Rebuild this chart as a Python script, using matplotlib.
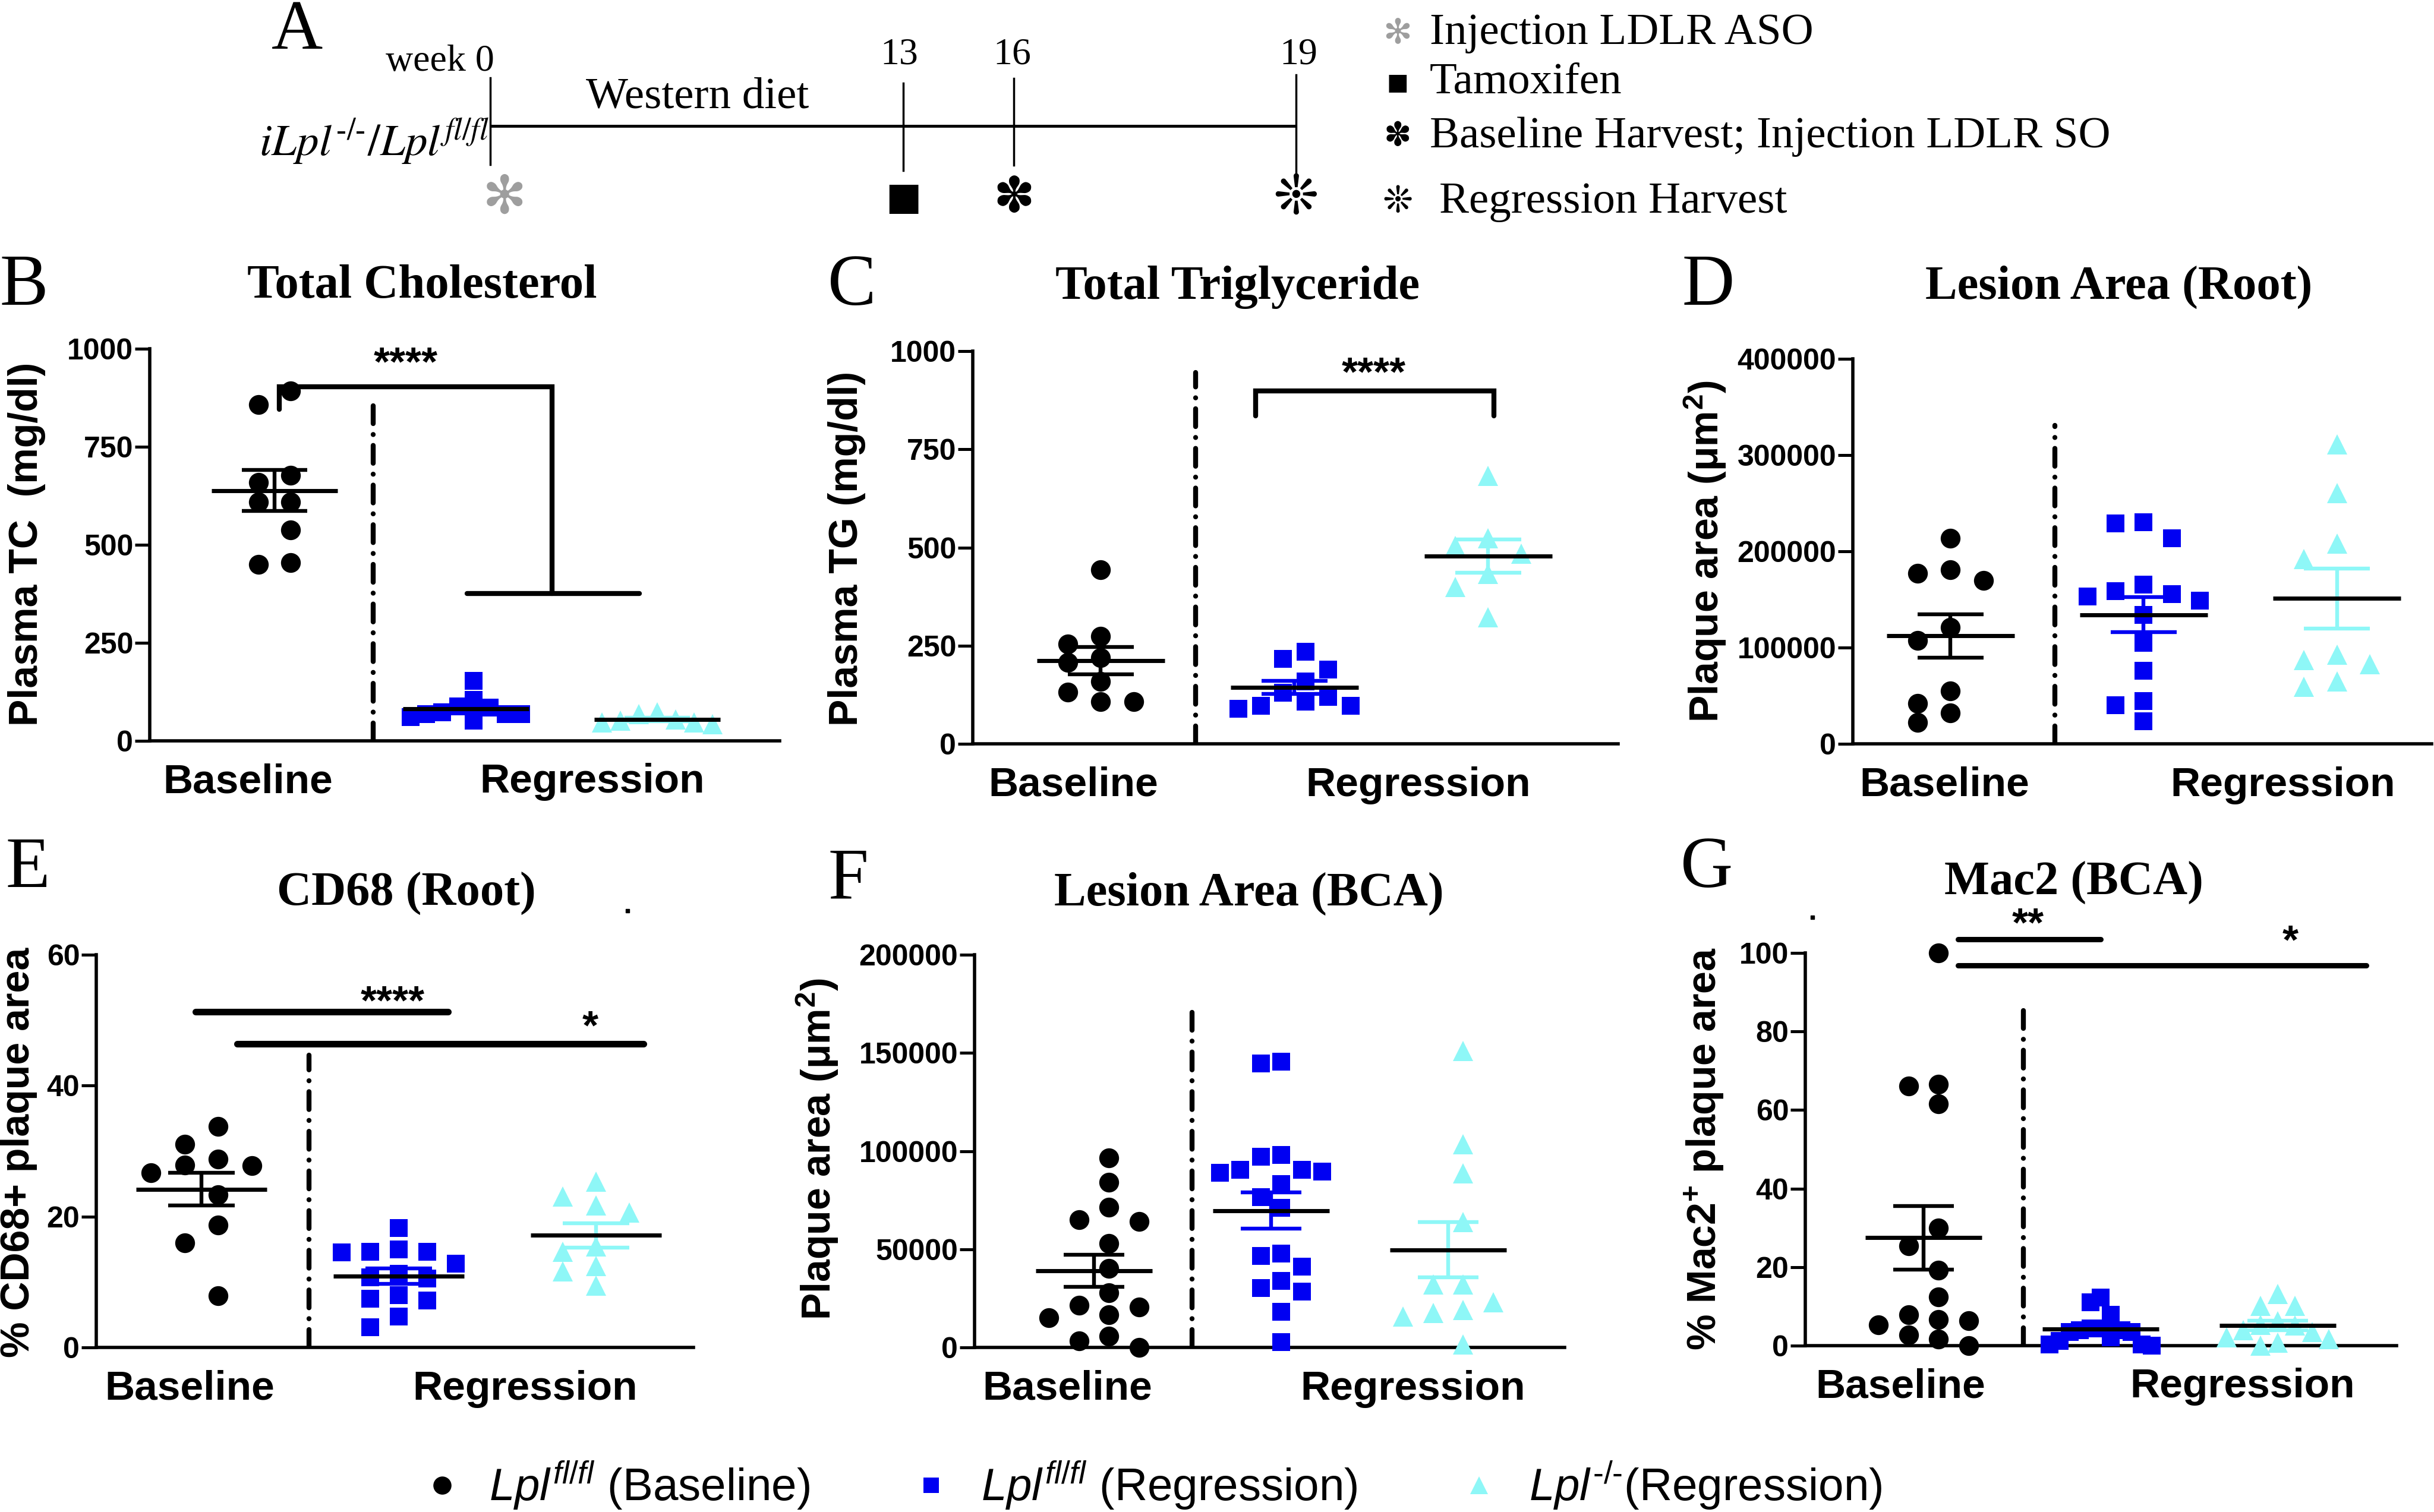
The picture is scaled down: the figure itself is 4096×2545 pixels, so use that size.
import numpy as np
import matplotlib
matplotlib.use("Agg")
import matplotlib.pyplot as plt

W, H = 4096, 2545
plt.rcParams['font.family'] = ['Liberation Sans', 'DejaVu Sans']
plt.rcParams['mathtext.fontset'] = 'custom'
plt.rcParams['mathtext.rm'] = 'Liberation Sans'
plt.rcParams['mathtext.it'] = 'Liberation Sans:italic'
plt.rcParams['mathtext.bf'] = 'Liberation Sans:bold'

SERIF = 'Liberation Serif'
BLUE = '#0000f2'
CYAN = '#8ef7f7'
GRAY = '#9e9e9e'

# ---- data ----
groups = ['Baseline', 'Regression']
legend_labels = [r'$Lpl^{fl/fl}$ (Baseline)', r'$Lpl^{fl/fl}$ (Regression)',
                 r'$Lpl^{‐/‐}$(Regression)']

tc_base = [893, 858, 677, 659, 609, 609, 538, 450, 454]
tc_flox = [105, 68, 88, 72, 153, 85, 51, 68, 61, 68]
tc_ko = [47, 72, 51, 68, 42, 54, 47]

tg_base = [443, 274, 254, 220, 207, 159, 132, 108, 108]
tg_flox = [216, 234, 189, 159, 130, 119, 97, 97, 89, 108]
tg_ko = [682, 504, 524, 484, 432, 400, 322]

root_base = [213800, 176900, 180700, 169700, 121200, 107400, 55100, 41900, 32000, 22000]
root_flox = [230300, 229200, 213800, 165300, 155400, 158700, 153200, 148800, 133900,
             105200, 76000, 44600, 40200, 23700]
root_ko = [311300, 260600, 208300, 191700, 92600, 82700, 87100, 59500, 65000]

cd68_base = [33.8, 28.8, 31.0, 27.9, 27.8, 26.7, 23.3, 18.7, 16.0, 7.9]
cd68_flox = [18.2, 14.6, 14.6, 15.0, 14.5, 12.8, 11.3, 10.7, 10.5, 8.0, 7.4, 7.2, 4.7, 3.1]
cd68_ko = [25.3, 23.1, 21.7, 20.6, 15.4, 14.6, 12.4, 11.6, 9.4]

bca_base = [96600, 84200, 71400, 64100, 65000, 53100, 40300, 27800, 20700, 21400,
            15200, 16500, 3300, 5900, 0]
bca_flox = [145500, 144600, 97900, 97000, 90600, 89700, 89100, 90600, 83300, 76500,
            71000, 46700, 47900, 41200, 33900, 30200, 28400, 18300, 2700]
bca_ko = [151000, 103400, 88800, 63700, 32000, 32000, 22900, 17400, 19200, 15600, 1500]

mac2_base = [100, 66.1, 66.6, 61.6, 30.0, 25.4, 19.2, 12.4, 5.3, 6.7, 6.4, 7.9, 2.7, 1.6, 0]
mac2_flox = [12.2, 11.0, 7.8, 4.4, 3.5, 4.4, 3.5, 3.9, 3.9, 1.2, 2.1, 0, 0.3, 0.3]
mac2_ko = [13.1, 10.1, 10.1, 5.3, 6.2, 5.1, 3.5, 3.9, 1.6, 2.1, 0.7, 0]

weeks = ['week 0', '13', '16', '19']
steps = ['Injection LDLR ASO', 'Tamoxifen', 'Baseline Harvest; Injection LDLR SO', 'Regression Harvest']

fig = plt.figure(figsize=(W / 100, H / 100), dpi=100)
fig.patch.set_facecolor('white')


def fx(x):
    return x / W


def fy(y):
    return 1 - y / H


# overlay in pixel units for the schematic and the legend
ov = fig.add_axes([0, 0, 1, 1])
ov.set_xlim(0, W)
ov.set_ylim(H, 0)
ov.axis('off')
ov.patch.set_visible(False)


def swarm(vals, dy, step=0.17, span=0.58):
    # graphpad-like column scatter: points that would overlap go into side slots
    vals = np.asarray(vals, float)
    slots = np.zeros(len(vals))
    placed = []
    cands = [0] + [s for k in range(1, 30) for s in (-k, k)]
    for i in np.argsort(-vals, kind='stable'):
        for s in cands:
            if all(abs(vals[i] - pv) >= dy for ps, pv in placed if ps == s):
                break
        placed.append((s, vals[i]))
        slots[i] = s
    lo, hi = slots.min(), slots.max()
    n = hi - lo
    gap = step if n * step <= span else span / n
    return (slots - (lo + hi) / 2) * gap


def draw_group(ax, x0, vals, marker, color, ecolor, ms, dy):
    vals = np.asarray(vals, float)
    xs = x0 + swarm(vals, dy)
    ax.plot(xs, vals, ls='none', marker=marker, ms=ms, mfc=color, mec=color,
            mew=0, clip_on=False, zorder=3)
    m = vals.mean()
    se = vals.std(ddof=1) / np.sqrt(len(vals))
    kw = dict(color=ecolor, lw=4.6, solid_capstyle='butt', clip_on=False, zorder=4)
    ax.plot([x0, x0], [m - se, m + se], **kw)
    ax.plot([x0 - 0.17, x0 + 0.17], [m + se, m + se], **kw)
    ax.plot([x0 - 0.17, x0 + 0.17], [m - se, m - se], **kw)
    ax.plot([x0 - 0.33, x0 + 0.33], [m, m], color='black', lw=5,
            solid_capstyle='butt', clip_on=False, zorder=5)


def make_panel(box, xlim, ylim, ticks, dash, lab, data):
    l, r, b, t = box
    ax = fig.add_axes([fx(l), fy(b), (r - l) / W, (b - t) / H])
    ax.set_xlim(*xlim)
    ax.set_ylim(*ylim)
    ax.patch.set_visible(False)
    for s in ['top', 'right']:
        ax.spines[s].set_visible(False)
    for s in ['left', 'bottom']:
        ax.spines[s].set_linewidth(4)
    ax.set_yticks(ticks)
    ax.set_yticklabels([str(v) for v in ticks], fontsize=36, fontweight='bold')
    ax.tick_params(axis='y', length=18, width=3.6, pad=2)
    ax.set_xticks(lab)
    ax.set_xticklabels(groups, fontsize=50, fontweight='bold')
    ax.tick_params(axis='x', length=0, pad=27)
    ax.plot([dash[0], dash[0]], [0, dash[1]], color='black', lw=6,
            ls=(0, (3.6, 2.2, 0.01, 2.2)), dash_capstyle='round', zorder=2)
    dy = 31 / (b - t) * (ylim[1] - ylim[0])
    base, flox, ko = data
    draw_group(ax, 0, base, 'o', 'black', 'black', 24, dy)
    draw_group(ax, 1, flox, 's', BLUE, BLUE, 22, dy)
    draw_group(ax, 2, ko, '^', CYAN, CYAN, 25, dy)
    return ax


def star(ax, x, y, s):
    ax.text(x, y, s, ha='center', va='center', fontsize=50, fontweight='bold', clip_on=False)


def bar(ax, xs, ys, lw):
    ax.plot(xs, ys, color='black', lw=lw, solid_capstyle='round',
            solid_joinstyle='miter', clip_on=False, zorder=4)


# ---- panels ----
axB = make_panel((252, 1312, 1247, 587), (-0.652, 2.64), (0, 1000), [0, 250, 500, 750, 1000],
                 (0.516, 862), (-0.14, 1.66), (tc_base, tc_flox, tc_ko))
bar(axB, [0.025, 0.025, 1.45, 1.45], [845, 903, 903, 376], 6)
bar(axB, [1.006, 1.907], [376, 376], 6)
star(axB, 0.686, 960, '****')

axC = make_panel((1637, 2723, 1252, 591), (-0.66, 2.67), (0, 1000), [0, 250, 500, 750, 1000],
                 (0.49, 946), (-0.14, 1.64), (tg_base, tg_flox, tg_ko))
bar(axC, [0.80, 0.80, 2.03, 2.03], [835, 899, 899, 835], 6)
star(axC, 1.41, 940, '****')

axD = make_panel((3118, 4092, 1252, 604), (-0.505, 2.49), (0, 400000),
                 [0, 100000, 200000, 300000, 400000],
                 (0.54, 331000), (-0.03, 1.72), (root_base, root_flox, root_ko))

axE = make_panel((162, 1167, 2268, 1607), (-0.533, 2.494), (0, 60), [0, 20, 40, 60],
                 (0.545, 44.7), (-0.06, 1.64), (cd68_base, cd68_flox, cd68_ko))
bar(axE, [-0.03, 1.25], [51.3, 51.3], 8)
bar(axE, [0.18, 2.24], [46.4, 46.4], 8)
star(axE, 0.97, 52.6, '****')
star(axE, 1.97, 48.8, '*')

axF = make_panel((1640, 2633, 2268, 1607), (-0.675, 2.658), (0, 200000),
                 [0, 50000, 100000, 150000, 200000],
                 (0.554, 172000), (-0.15, 1.80), (bca_base, bca_flox, bca_ko))

axG = make_panel((3038, 4033, 2265, 1604), (-0.668, 2.671), (0, 100), [0, 20, 40, 60, 80, 100],
                 (0.564, 86.3), (-0.13, 1.80), (mac2_base, mac2_flox, mac2_ko))
bar(axG, [0.195, 1.0], [103.5, 103.5], 6.5)
bar(axG, [0.195, 2.5], [96.8, 96.8], 6.5)
star(axG, 0.59, 107.0, '**')
star(axG, 2.07, 102.7, '*')

# ---- titles, letters, y labels ----
titles = [('Total Cholesterol', 710, 481), ('Total Triglyceride', 2083, 483),
          ('Lesion Area (Root)', 3566, 483), ('CD68 (Root)', 684, 1504),
          ('Lesion Area (BCA)', 2102, 1504), ('Mac2 (BCA)', 3490, 1486)]
for s, x, y in titles:
    fig.text(fx(x), fy(y), s, ha='center', va='center', family=SERIF,
             fontweight='bold', fontsize=58)

fig.text(fx(500), fy(0), 'A', ha='center', va='top', family=SERIF, fontsize=86)
letters = [('B', 40, 483), ('C', 1434, 483), ('D', 2875, 483),
           ('E', 47, 1463), ('F', 1427, 1482), ('G', 2872, 1463)]
for s, x, y in letters:
    fig.text(fx(x), fy(y), s, ha='center', va='center', family=SERIF, fontsize=88)

ylabels = [('Plasma TC  (mg/dl)', 45, 916), ('Plasma TG (mg/dl)', 1425, 923),
           (r'Plaque area (μm$^{\mathbf{2}}$)', 2870, 928), ('% CD68+ plaque area', 31, 1940),
           (r'Plaque area (μm$^{\mathbf{2}}$)', 1376, 1934),
           (r'% Mac2$^{\mathbf{+}}$ plaque area', 2868, 1934)]
for s, x, y in ylabels:
    fig.text(fx(x), fy(y), s, ha='center', va='center', rotation=90,
             fontweight='bold', fontsize=49)

# stray specks in the original
ov.plot([1056, 3050], [1533, 1544], ls='none', marker='s', ms=4, color='black')

# ---- panel A: timeline ----
tl_x = [825, 1520, 1706, 2181]
tl_top = [131, 140, 132, 126]
tl_bot = [277, 287, 278, 293]
ov.plot([tl_x[0], tl_x[-1]], [212, 212], color='black', lw=3.5, solid_capstyle='butt')
for x, t0, t1 in zip(tl_x, tl_top, tl_bot):
    ov.plot([x, x], [t0, t1], color='black', lw=2.5)
wk_pos = [(740, 104), (1513, 92), (1703, 92), (2185, 92)]
for s, (x, y) in zip(weeks, wk_pos):
    ov.text(x, y, s, ha='center', va='center', family=SERIF, fontsize=46)
ov.text(1174, 164, 'Western diet', ha='center', va='center', family=SERIF, fontsize=54)
ov.text(823, 238, r'$iLpl^{‐/‐}/Lpl^{fl/fl}$', ha='right', va='center',
        fontsize=54, math_fontfamily='stix')

sym = ['✻', '■', '✽', '❊']
sym_col = [GRAY, 'black', 'black', 'black']
tl_sym_size = [64, 46, 60, 66]
for x, s, c, fs in zip(tl_x, sym, sym_col, tl_sym_size):
    ov.text(x + (24 if s == '✻' else 0), 334, s, ha='center', va='center', color=c,
            family='DejaVu Sans', fontsize=fs)
leg_y = [56, 139, 230, 340]
leg_sym_size = [42, 28, 40, 44]
for s, c, fs, y, lab in zip(sym, sym_col, leg_sym_size, leg_y, steps):
    ov.text(2352, y, s, ha='center', va='center', color=c, family='DejaVu Sans', fontsize=fs)
    ov.text(2406 if lab != steps[-1] else 2422, y, lab, ha='left', va='center',
            family=SERIF, fontsize=54)

# ---- bottom legend ----
leg_mk = [('o', 'black', 22, 744, 823), ('s', BLUE, 19, 1567, 1651), ('^', CYAN, 22, 2489, 2573)]
for (mk, c, ms, xm, xt), lab in zip(leg_mk, legend_labels):
    ov.plot([xm], [2500], ls='none', marker=mk, ms=ms, mfc=c, mec=c, mew=0)
    ov.text(xt, 2500, lab, ha='left', va='center', fontsize=55)

fig.savefig('out.png', dpi=100, facecolor='white')
